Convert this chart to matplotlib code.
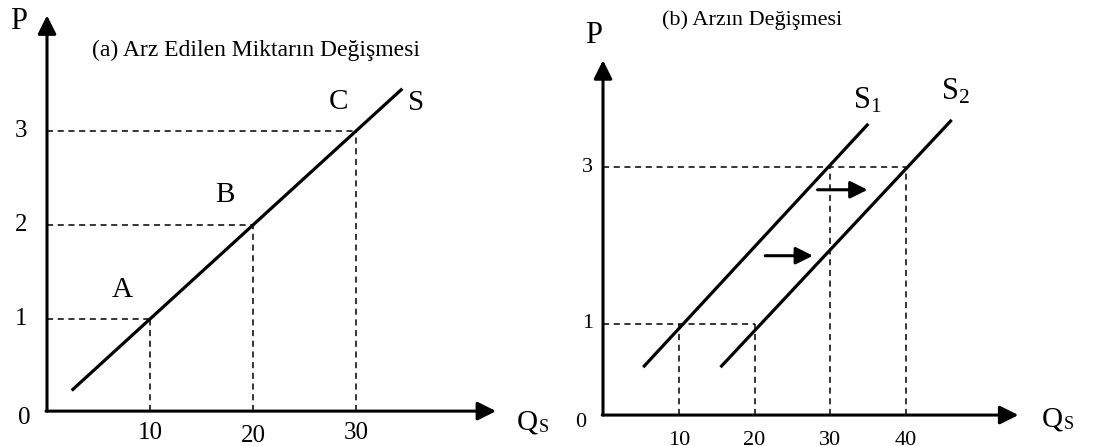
import numpy as np
import matplotlib.pyplot as plt

plt.rcParams["font.family"] = ["Liberation Serif", "DejaVu Serif"]

# panel (a): movement along the supply curve
a_q = [10, 20, 30]
a_p = [1, 2, 3]
a_points = ["A", "B", "C"]
a_curve_q = [2.4, 34.5]
a_curve_p = [0.24, 3.45]

# panel (b): shift of the supply curve
b_s1_q = [5.3, 35.0]
b_s1_p = [0.45, 3.55]
b_s2_q = [15.5, 46.0]
b_s2_p = [0.45, 3.6]
b_ticks_q = [10, 20, 30, 40]
b_ticks_p = [1, 3]
b_drop = [(10, 1), (20, 1), (30, 3), (40, 3)]
b_shift_y = [2.71, 1.87]
b_shift_x0 = [28.3, 21.4]
b_shift_x1 = [34.9, 27.7]

W, H = 1113, 446
fig = plt.figure(figsize=(W / 100, H / 100), dpi=100)

# left axes: origin at (47, 413) px, 10.3 px per Q, 94 px per P
axa = fig.add_axes([0, 0, 556.5 / W, 1])
axa.set_xlim(-47 / 10.3, (556.5 - 47) / 10.3)
axa.set_ylim(-33 / 94, (H - 33) / 94)
axa.axis("off")

# right axes: origin at (603, 402.5) px, 7.58 px per Q, 78.5 px per P
axb = fig.add_axes([556.5 / W, 0, 556.5 / W, 1])
axb.set_xlim(-46.5 / 7.58, (556.5 - 46.5) / 7.58)
axb.set_ylim(-43.5 / 78.5, (H - 43.5) / 78.5)
axb.axis("off")

arrow = dict(arrowstyle="-|>", lw=2.2, color="black", mutation_scale=28,
             shrinkA=0, shrinkB=0)
dash = dict(color="black", lw=1.1, dashes=(4, 3))

# ---- panel (a) ----
axa.annotate("", xy=(0, 4.23), xytext=(0, 0.02), arrowprops=arrow)
axa.annotate("", xy=(43.6, 0.02), xytext=(-0.1, 0.02), arrowprops=arrow)
for q, p in zip(a_q, a_p):
    axa.plot([0, q], [p, p], **dash)
    axa.plot([q, q], [0.02, p], **dash)
    axa.text(-1.9, p, str(p), ha="right", va="center", fontsize=18)
    axa.text(q, -0.25 if q == 20 else -0.21, str(q), ha="center",
             va="center", fontsize=18)
axa.plot(a_curve_q, a_curve_p, color="black", lw=2.3, solid_capstyle="butt")
axa.text(-2.2, -0.05, "0", ha="center", va="center", fontsize=18)
axa.text(-2.8, 4.16, "P", ha="center", va="center", fontsize=22)
axa.text(20.3, 3.86, "(a) Arz Edilen Miktarın Değişmesi", ha="center",
         va="center", fontsize=17)
for lab, x, y in zip(a_points, [7.3, 17.3, 28.3], [1.31, 2.32, 3.31]):
    axa.text(x, y, lab, ha="center", va="center", fontsize=21)
axa.text(35.8, 3.30, "S", ha="center", va="center", fontsize=21)
axa.text(47.6, -0.10, "Q", ha="right", va="center", fontsize=21)
axa.text(47.7, -0.15, "S", ha="left", va="center", fontsize=13)

# ---- panel (b) ----
axb.annotate("", xy=(0, 4.36), xytext=(0, -0.16), arrowprops=arrow)
axb.annotate("", xy=(54.8, -0.16), xytext=(-0.1, -0.16), arrowprops=arrow)
for q, p in b_drop:
    axb.plot([q, q], [-0.16, p], **dash)
axb.plot([0, 20], [1, 1], **dash)
axb.plot([0, 40], [3, 3], **dash)
for p in b_ticks_p:
    axb.text(-1.3, p, str(p), ha="right", va="center", fontsize=16)
for q in b_ticks_q:
    axb.text(q, -0.48, str(q), ha="center", va="center", fontsize=16)
axb.plot(b_s1_q, b_s1_p, color="black", lw=2.3, solid_capstyle="butt")
axb.plot(b_s2_q, b_s2_p, color="black", lw=2.3, solid_capstyle="butt")
for y, x0, x1 in zip(b_shift_y, b_shift_x0, b_shift_x1):
    axb.annotate("", xy=(x1, y), xytext=(x0, y),
                 arrowprops=dict(arrowstyle="-|>", lw=2.2, color="black",
                                 mutation_scale=26, shrinkA=0, shrinkB=0))
axb.text(-3.0, -0.26, "0", ha="center", va="center", fontsize=16)
axb.text(-1.3, 4.68, "P", ha="center", va="center", fontsize=22)
axb.text(7.8, 4.87, "(b) Arzın Değişmesi", ha="left", va="center", fontsize=16)
axb.text(33.0, 3.85, r"S$\mathregular{_1}$", ha="left", va="center", fontsize=22)
axb.text(44.6, 3.96, r"S$\mathregular{_2}$", ha="left", va="center", fontsize=22)
axb.text(60.7, -0.22, "Q", ha="right", va="center", fontsize=21)
axb.text(60.8, -0.28, "S", ha="left", va="center", fontsize=13)

fig.savefig("out.png", dpi=100)
